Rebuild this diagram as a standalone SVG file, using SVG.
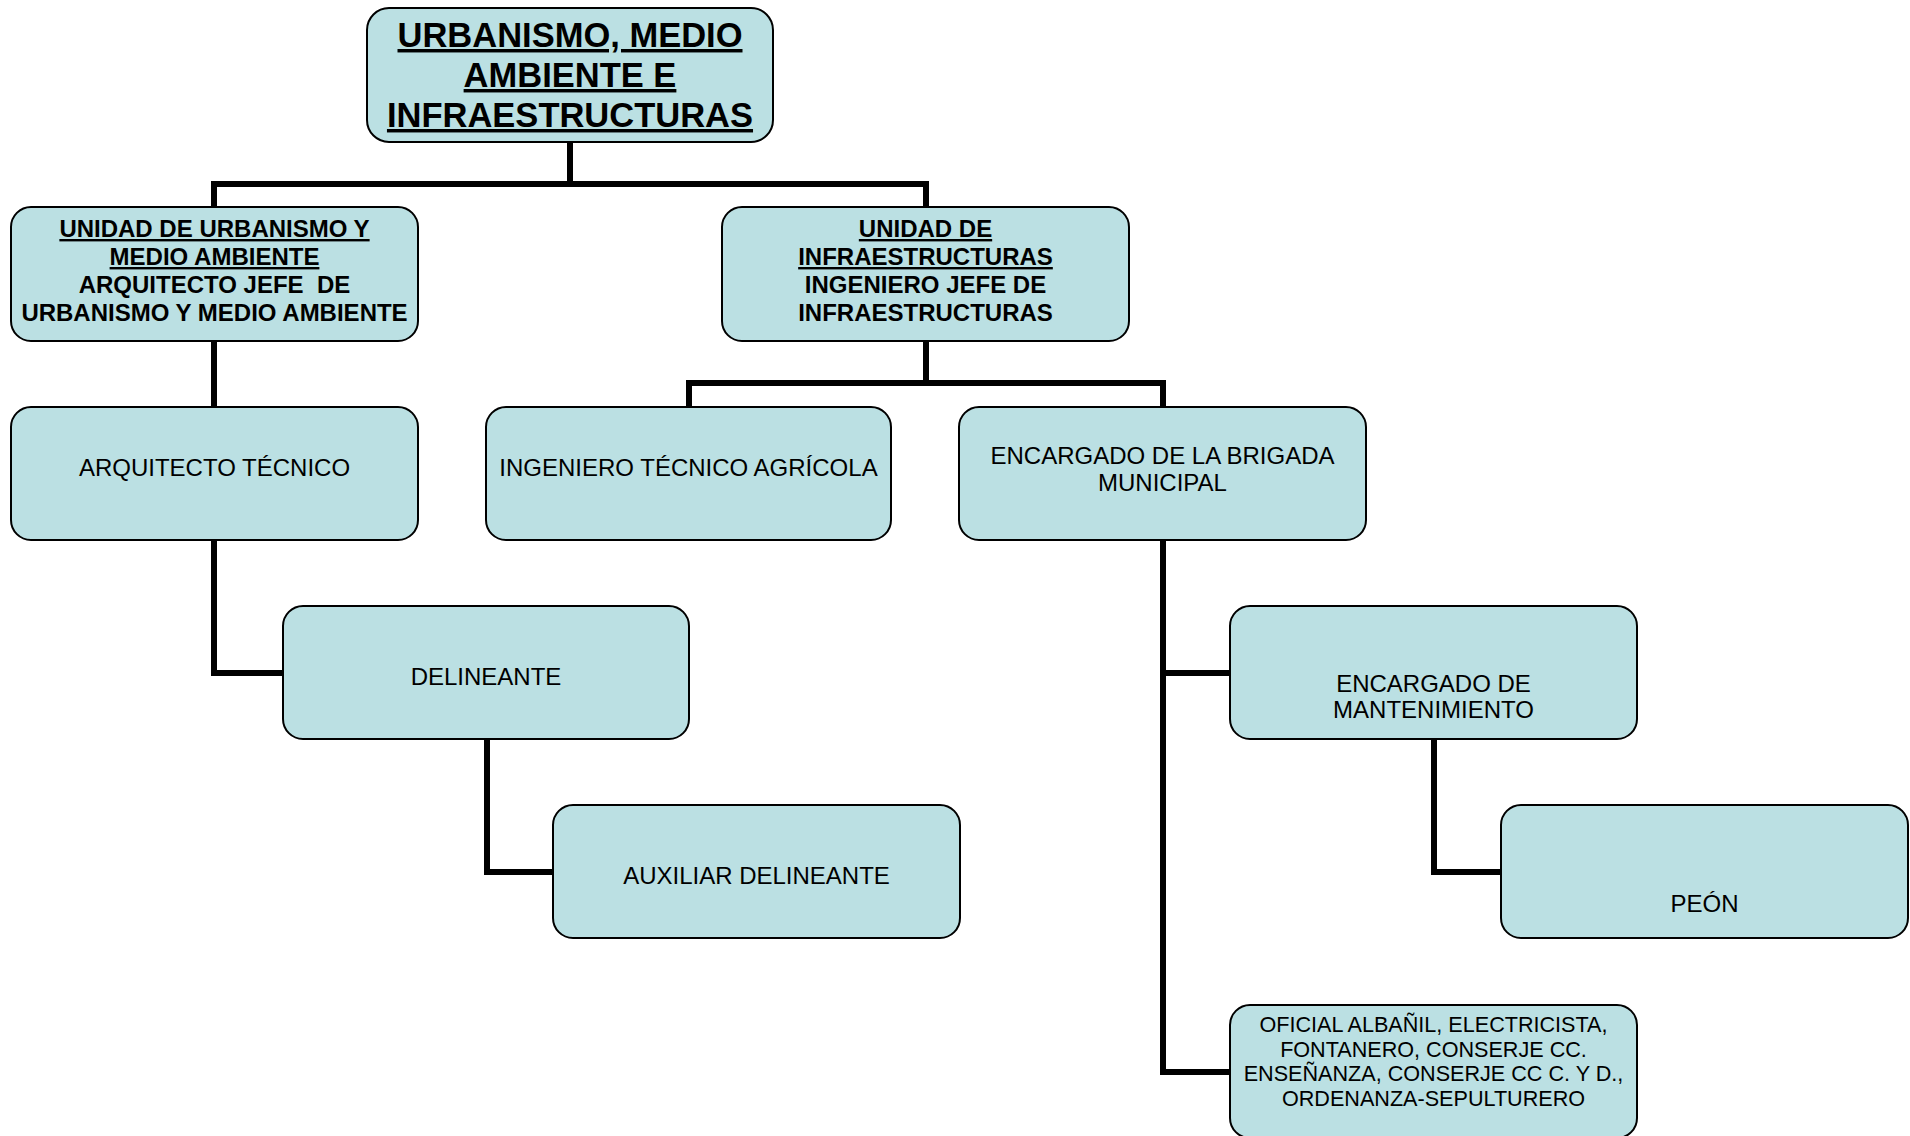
<svg xmlns="http://www.w3.org/2000/svg" width="1910" height="1136" viewBox="0 0 1910 1136">
<style>
.box{fill:#BBE0E3;stroke:#000;stroke-width:2}
.t{font-family:"Liberation Sans",Arial,sans-serif;fill:#000;text-anchor:middle}
.b{font-weight:bold}
.u{text-decoration:underline}
.conn{fill:none;stroke:#000;stroke-width:6;stroke-linejoin:miter;stroke-linecap:square}
</style>
<rect width="1910" height="1136" fill="#fff"/>
<g id="connectors">
<path class="conn" d="M570,142 V184 M214,184 H926 M214,184 V207 M926,184 V207"/>
<path class="conn" d="M214,341 V407"/>
<path class="conn" d="M926,341 V383 M689,383 H1163 M689,383 V407 M1163,383 V407"/>
<path class="conn" d="M214,540 V673 H283"/>
<path class="conn" d="M487,739 V872 H553"/>
<path class="conn" d="M1163,540 V1072 H1230 M1163,673 H1230"/>
<path class="conn" d="M1434,739 V872 H1501"/>
</g>
<g id="top">
<rect class="box" x="367" y="8" width="406" height="134" rx="22"/>
<text class="t b u" font-size="34.5" x="570"><tspan x="570" y="47">URBANISMO, MEDIO</tspan><tspan x="570" y="87">AMBIENTE E</tspan><tspan x="570" y="127">INFRAESTRUCTURAS</tspan></text>
</g>
<g id="unidad-urbanismo">
<rect class="box" x="11" y="207" width="407" height="134" rx="20"/>
<text class="t b" font-size="24" xml:space="preserve"><tspan class="u" x="214.5" y="237">UNIDAD DE URBANISMO Y</tspan><tspan class="u" x="214.5" y="265">MEDIO AMBIENTE</tspan><tspan x="214.5" y="293">ARQUITECTO JEFE  DE</tspan><tspan x="214.5" y="321">URBANISMO Y MEDIO AMBIENTE</tspan></text>
</g>
<g id="unidad-infraestructuras">
<rect class="box" x="722" y="207" width="407" height="134" rx="20"/>
<text class="t b" font-size="24"><tspan class="u" x="925.5" y="237">UNIDAD DE</tspan><tspan class="u" x="925.5" y="265">INFRAESTRUCTURAS</tspan><tspan x="925.5" y="293">INGENIERO JEFE DE</tspan><tspan x="925.5" y="321">INFRAESTRUCTURAS</tspan></text>
</g>
<g id="arquitecto-tecnico">
<rect class="box" x="11" y="407" width="407" height="133" rx="20"/>
<text class="t" font-size="24" x="214.5" y="476">ARQUITECTO TÉCNICO</text>
</g>
<g id="ingeniero-tecnico-agricola">
<rect class="box" x="486" y="407" width="405" height="133" rx="20"/>
<text class="t" font-size="24" x="688.5" y="476">INGENIERO TÉCNICO AGRÍCOLA</text>
</g>
<g id="encargado-brigada">
<rect class="box" x="959" y="407" width="407" height="133" rx="20"/>
<text class="t" font-size="24"><tspan x="1162.5" y="464">ENCARGADO DE LA BRIGADA</tspan><tspan x="1162.5" y="491">MUNICIPAL</tspan></text>
</g>
<g id="delineante">
<rect class="box" x="283" y="606" width="406" height="133" rx="20"/>
<text class="t" font-size="24" x="486" y="685">DELINEANTE</text>
</g>
<g id="encargado-mantenimiento">
<rect class="box" x="1230" y="606" width="407" height="133" rx="20"/>
<text class="t" font-size="24"><tspan x="1433.5" y="692">ENCARGADO DE</tspan><tspan x="1433.5" y="718">MANTENIMIENTO</tspan></text>
</g>
<g id="auxiliar-delineante">
<rect class="box" x="553" y="805" width="407" height="133" rx="20"/>
<text class="t" font-size="24" x="756.5" y="884">AUXILIAR DELINEANTE</text>
</g>
<g id="peon">
<rect class="box" x="1501" y="805" width="407" height="133" rx="20"/>
<text class="t" font-size="24" x="1704.5" y="912">PEÓN</text>
</g>
<g id="oficial">
<rect class="box" x="1230" y="1005" width="407" height="133" rx="20"/>
<text class="t" font-size="21.6"><tspan x="1433.5" y="1032">OFICIAL ALBAÑIL, ELECTRICISTA,</tspan><tspan x="1433.5" y="1056.5">FONTANERO, CONSERJE CC.</tspan><tspan x="1433.5" y="1081">ENSEÑANZA, CONSERJE CC C. Y D.,</tspan><tspan x="1433.5" y="1105.5">ORDENANZA-SEPULTURERO</tspan></text>
</g>
</svg>
